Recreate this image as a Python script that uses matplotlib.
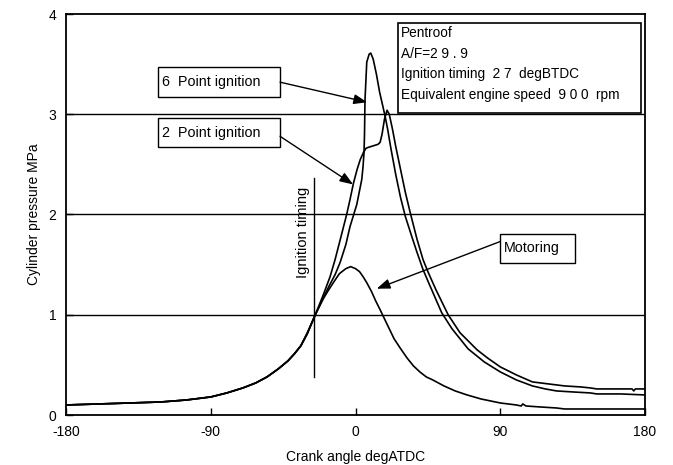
import matplotlib
matplotlib.use("Agg")
import matplotlib.pyplot as plt
from matplotlib.patches import Rectangle

# ---- data (crank angle deg ATDC, pressure MPa) ----
six_x = [-180, -160, -140, -121, -105, -90, -80, -70, -62, -55, -48, -42, -38, -34, -30, -25,
         -20, -16, -12.7, -9.6, -6, -3.4, 0.8, 3.9, 4.7, 5.3, 5.6, 5.9, 7, 8.5, 9.5, 11, 13, 15,
         17, 18.4, 20, 22, 25, 28, 31, 35, 38.3, 42, 46, 53.6, 60, 70, 80, 90, 100, 110, 118,
         125, 135, 146, 150, 165, 180]
six_p = [0.10, 0.11, 0.12, 0.13, 0.15, 0.18, 0.22, 0.27, 0.32, 0.38, 0.46, 0.54, 0.61, 0.69, 0.81, 1.00,
         1.17, 1.30, 1.40, 1.52, 1.70, 1.88, 2.10, 2.35, 2.48, 2.62, 2.80, 3.14, 3.52, 3.60, 3.61, 3.55, 3.40, 3.22,
         3.08, 2.98, 2.85, 2.66, 2.40, 2.17, 1.98, 1.78, 1.62, 1.45, 1.30, 1.02, 0.86, 0.66, 0.53, 0.43, 0.35, 0.29, 0.26,
         0.24, 0.23, 0.22, 0.21, 0.21, 0.20]

two_x = [-180, -160, -140, -121, -105, -90, -80, -70, -62, -55, -48, -42, -38, -34, -30, -25,
         -20, -15.8, -12.7, -9, -5.5, -3.4, -1.3, 1, 3, 5, 6.5, 8, 10, 12, 14, 15.3, 16.5, 18, 19.6,
         21, 23, 25, 28, 31, 34, 38.3, 42, 45, 50, 57.6, 65, 75.6, 82, 90, 100, 110, 120, 130, 140,
         146, 150, 165, 172, 173, 174, 180]
two_p = [0.10, 0.11, 0.12, 0.13, 0.15, 0.18, 0.22, 0.27, 0.32, 0.38, 0.46, 0.54, 0.61, 0.69, 0.82, 1.00,
         1.20, 1.38, 1.55, 1.78, 2.00, 2.15, 2.31, 2.45, 2.55, 2.62, 2.66, 2.67, 2.68, 2.69, 2.70, 2.72, 2.80, 2.95, 3.04,
         3.00, 2.85, 2.68, 2.45, 2.22, 2.02, 1.75, 1.55, 1.43, 1.25, 1.00, 0.82, 0.65, 0.57, 0.48, 0.40, 0.33, 0.31, 0.29, 0.28,
         0.27, 0.26, 0.26, 0.26, 0.24, 0.26, 0.26]

mot_x = [-180, -160, -140, -121, -105, -90, -80, -70, -62, -55, -48, -42, -38, -34, -30, -25,
         -20, -17, -13.8, -10, -6, -3, 0, 2.5, 4.7, 7, 10, 12.5, 15.3, 18, 21, 24, 27.7, 32, 36, 40,
         44, 48, 55, 62, 69.4, 78, 90, 100, 103, 104, 106, 115, 125, 130, 150, 180]
mot_p = [0.10, 0.11, 0.12, 0.13, 0.15, 0.18, 0.22, 0.27, 0.32, 0.38, 0.46, 0.54, 0.61, 0.69, 0.81, 1.00,
         1.16, 1.24, 1.32, 1.41, 1.46, 1.48, 1.46, 1.43, 1.38, 1.32, 1.23, 1.14, 1.05, 0.96, 0.86, 0.76, 0.67, 0.57, 0.49, 0.43,
         0.38, 0.35, 0.29, 0.24, 0.20, 0.16, 0.12, 0.10, 0.09, 0.11, 0.09, 0.08, 0.07, 0.06, 0.06, 0.06]

x_ticks = [-180, -90, 0, 90, 180]
y_ticks = [0, 1, 2, 3, 4]
ign_angle = -26

info_lines = ["Pentroof", "A/F=2 9 . 9", "Ignition timing  2 7  degBTDC",
              "Equivalent engine speed  9 0 0  rpm"]

plt.rcParams["font.family"] = ["Liberation Sans", "DejaVu Sans"]
plt.rcParams["axes.unicode_minus"] = False

fig = plt.figure(figsize=(6.73, 4.65), dpi=100)
ax = fig.add_axes([66 / 673, 50 / 465, 579 / 673, 401 / 465])

# grid lines at 1,2,3 MPa
for g in [1, 2, 3]:
    ax.axhline(g, color="black", lw=1.0, zorder=1)

lw = 1.2
ax.plot(six_x, six_p, color="black", lw=lw, zorder=3)
ax.plot(two_x, two_p, color="black", lw=lw, zorder=3)
ax.plot(mot_x, mot_p, color="black", lw=lw, zorder=3)

# ignition timing marker
ax.plot([ign_angle, ign_angle], [0.38, 2.36], color="black", lw=1.0, zorder=2)
ax.text(ign_angle - 2.0, 1.82, "Ignition timing", rotation=90, ha="right", va="center",
        fontsize=10.5)

# info box
ax.add_patch(Rectangle((26.5, 3.01), 151.1, 0.90, fill=True, facecolor="white",
                       edgecolor="black", lw=1.2, zorder=4))
for i, s in enumerate(info_lines):
    ax.text(28.3, 3.81 - i * 0.205, s, ha="left", va="center", fontsize=9.8, zorder=5)

# labelled arrows
def label_box(x0, y0, x1, y1, txt, tip, start):
    ax.add_patch(Rectangle((x0, y0), x1 - x0, y1 - y0, facecolor="white",
                           edgecolor="black", lw=1.0, zorder=4))
    ax.text(x0 + 2.5, (y0 + y1) / 2, txt, ha="left", va="center", fontsize=10.3, zorder=5)
    ax.annotate("", xy=tip, xytext=start, zorder=5,
                arrowprops=dict(arrowstyle="-|>,head_length=0.8,head_width=0.3",
                                color="black", lw=1.0, shrinkA=0, shrinkB=0))

label_box(-122.8, 3.17, -46.9, 3.47, "6  Point ignition", (7.2, 3.12), (-46.9, 3.32))
label_box(-122.8, 2.67, -46.9, 2.96, "2  Point ignition", (-1.5, 2.30), (-46.9, 2.78))
label_box(89.9, 1.52, 136.5, 1.81, "Motoring", (13.2, 1.26), (89.9, 1.73))

ax.set_xlim(-180, 180)
ax.set_ylim(0, 4)
ax.set_xticks(x_ticks)
ax.set_yticks(y_ticks)
ax.tick_params(direction="in", length=5, width=1.0, labelsize=10, pad=7)
for sp in ax.spines.values():
    sp.set_linewidth(1.3)

ax.set_xlabel("Crank angle degATDC", fontsize=10, labelpad=8)
ax.set_ylabel("Cylinder pressure MPa", fontsize=10, labelpad=5)

fig.savefig("out.png", dpi=100)
